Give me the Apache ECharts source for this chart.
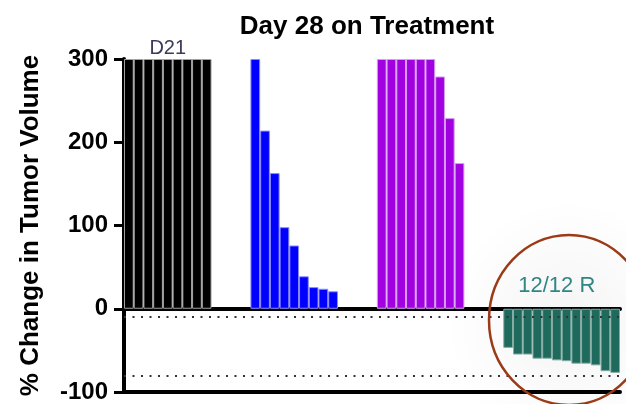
<!DOCTYPE html>
<html>
<head>
<meta charset="utf-8">
<script src="https://cdn.jsdelivr.net/npm/echarts@6/dist/echarts.min.js"></script>
<style>
html,body{margin:0;padding:0;background:#fff;}
#chart{width:626px;height:404px;}
</style>
</head>
<body>
<div id="chart"></div>
<script>
// ---- data ----
const titleText = 'Day 28 on Treatment';
const yAxisName = '% Change in Tumor Volume';
const blackValues  = [300, 300, 300, 300, 300, 300, 300, 300, 300];
const blueValues   = [300, 214, 163, 98, 76, 39, 26, 24, 21];
const purpleValues = [300, 300, 300, 300, 300, 300, 279, 229, 175];
const tealValues   = [-47, -55, -55, -60, -60, -62, -63, -66, -66, -68, -75, -77];
const groupKeys = ['G1', 'G2', 'G3', 'G4'];
const gapSlots = 4;
const yMin = -100, yMax = 300, yStep = 100;
const refLines = [-10, -80];
const blackNote = 'D21';
const blackNoteIndex = 4;
const tealNote = '12/12 R';
const tealNoteIndex = 5;
const tealNoteY = 28;

// ---- build category slots ----
const groups = [blackValues, blueValues, purpleValues, tealValues];
const categories = [];
const offsets = [];
groups.forEach((vals, gi) => {
  offsets.push(categories.length);
  vals.forEach((v, i) => categories.push(groupKeys[gi] + '-' + (i + 1)));
  if (gi < groups.length - 1) {
    for (let k = 0; k < gapSlots; k++) categories.push('gap' + gi + '-' + k);
  }
});
function seriesData(gi) {
  const arr = categories.map(() => null);
  groups[gi].forEach((v, i) => { arr[offsets[gi] + i] = v; });
  return arr;
}
const colors = ['#000000', '#0000ff', '#a100e0', '#1e6b5d'];
const borders = ['#a0a0a0', '#8a8aff', '#d79cf2', '#86aba3'];

const series = groups.map((g, gi) => {
  const data = seriesData(gi);
  return {
    type: 'bar',
    stack: 'all',
    barCategoryGap: '0%',
    data: data,
    itemStyle: { color: colors[gi], borderColor: borders[gi], borderWidth: 1 },
    silent: true,
    z: 2
  };
});
// D21 note on black group
const bd = series[0].data;
bd[offsets[0] + blackNoteIndex] = {
  value: blackValues[blackNoteIndex],
  label: { show: true, position: 'top', distance: 1, formatter: blackNote,
           color: '#3a3a5a', fontSize: 20, fontFamily: 'Liberation Sans' }
};
// reference dotted lines + 12/12 R note on teal series
series[3].markLine = {
  silent: true,
  symbol: ['none', 'none'],
  label: { show: false },
  lineStyle: { type: [2, 6.5], color: '#333', width: 2 },
  data: refLines.map(v => ({ yAxis: v }))
};
series[3].markPoint = {
  silent: true,
  symbol: 'rect',
  symbolSize: 0.1,
  label: { show: true, position: 'inside', formatter: tealNote, color: '#2f8684',
           fontSize: 22, fontFamily: 'Liberation Sans' },
  data: [{ coord: [categories[offsets[3] + tealNoteIndex], tealNoteY] }]
};

const chart = echarts.init(document.getElementById('chart'), null, { renderer: 'canvas' });
chart.setOption({
  animation: false,
  backgroundColor: '#ffffff',
  title: {
    text: titleText,
    left: 362,
    top: 9,
    textAlign: 'center',
    textStyle: { fontFamily: 'Liberation Sans', fontWeight: 'bold', fontSize: 26, color: '#000' }
  },
  grid: { left: 124, right: 6, top: 59, bottom: 12, outerBoundsMode: 'none' },
  xAxis: [{
    type: 'category',
    data: categories,
    position: 'bottom',
    axisLine: { show: true, onZero: true, lineStyle: { color: '#000', width: 4 } },
    axisTick: { show: false },
    axisLabel: { show: false },
    splitLine: { show: false }
  }, {
    type: 'category',
    data: categories,
    position: 'bottom',
    axisLine: { show: true, onZero: false, lineStyle: { color: '#000', width: 4 } },
    axisTick: { show: false },
    axisLabel: { show: false },
    splitLine: { show: false }
  }],
  yAxis: {
    type: 'value',
    min: yMin, max: yMax, interval: yStep,
    name: yAxisName,
    nameLocation: 'middle',
    nameRotate: 90,
    nameGap: 80,
    nameTextStyle: { fontFamily: 'Liberation Sans', fontWeight: 'bold', fontSize: 26, color: '#000' },
    axisLine: { show: true, lineStyle: { color: '#000', width: 4 } },
    axisTick: { show: true, length: 10, lineStyle: { color: '#000', width: 3 } },
    axisLabel: { margin: 16, fontFamily: 'Liberation Sans', fontWeight: 'bold', fontSize: 24, color: '#000' },
    splitLine: { show: false }
  },
  series: series,
  graphic: [
    {
      type: 'rect', z: -10, silent: true,
      shape: { x: 420, y: 190, width: 206, height: 214 },
      style: {
        fill: new echarts.graphic.RadialGradient(0.72, 0.62, 0.6, [
          { offset: 0, color: 'rgba(0,0,0,0.045)' },
          { offset: 1, color: 'rgba(0,0,0,0)' }
        ])
      }
    },
    {
      type: 'ellipse', z: 100, silent: true,
      shape: { cx: 569, cy: 320, rx: 80, ry: 85 },
      style: { fill: 'none', stroke: '#9b3a17', lineWidth: 2.5 }
    }
  ]
});
</script>
</body>
</html>
